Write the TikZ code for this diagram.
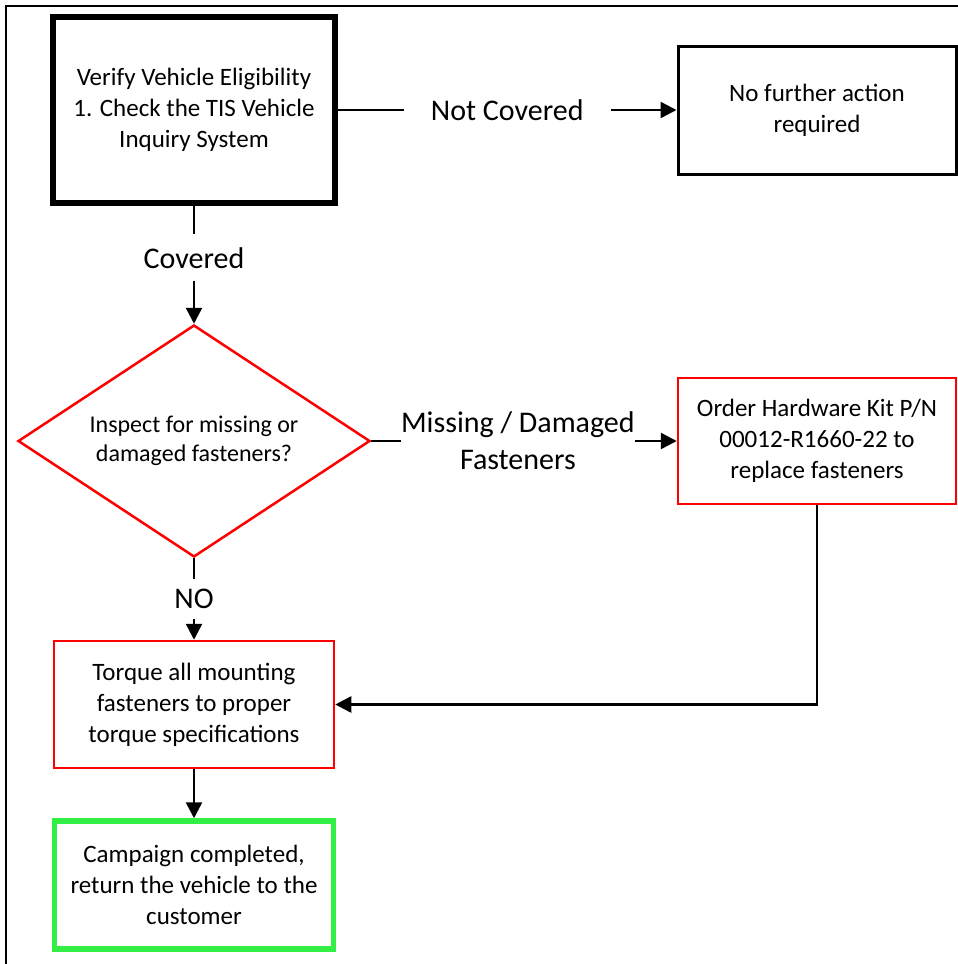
\documentclass[tikz,border=0pt]{standalone}
\usepackage{fontspec}
\setmainfont{Carlito}
\usetikzlibrary{arrows.meta,positioning,shapes.geometric}
\definecolor{flowInk}{HTML}{000000}
\definecolor{flowRed}{HTML}{FF0000}
\definecolor{flowGreen}{HTML}{33EE44}
\tikzset{
  every picture/.style={text=flowInk},
  flow box/.style={draw=flowInk, line width=3pt, fill=white, align=center,
    font=\fontsize{25}{31}\selectfont, minimum width=278pt,
    minimum height=128pt, inner sep=0pt},
  flow start/.style={flow box, line width=6pt, minimum width=282pt,
    minimum height=186pt},
  flow check/.style={flow box, draw=flowRed, line width=2.5pt},
  flow done/.style={flow box, draw=flowGreen, line width=5.5pt},
  flow decision/.style={diamond, aspect=1.517, draw=flowRed, line width=2.5pt,
    fill=white, align=center, font=\fontsize{24}{29.5}\selectfont,
    minimum width=352pt, minimum height=232pt, inner sep=0pt},
  flow arrow/.style={-{Triangle[length=16pt,width=16pt]},
    draw=flowInk, line width=2.5pt},
  flow frame/.style={draw=flowInk, line width=2.5pt},
  flow label/.style={fill=white, align=center,
    font=\fontsize{30}{37}\selectfont, inner xsep=0pt, inner ysep=12pt}
}

\begin{document}
\begin{tikzpicture}[x=1pt,y=-1pt]
  \useasboundingbox (0,0) rectangle (958,964);
  \draw[flow frame] (6,964) -- (6,6) -- (958,6);

  \node[flow start] (verify) at (194,110) {Verify Vehicle Eligibility\\1. Check the TIS Vehicle\\Inquiry System};
  \node[flow box] (nofurther) at (817,110) {No further action\\required};
  \node[flow decision] (inspect) at (194,441) {Inspect for missing or\\damaged fasteners?};
  \node[flow check, minimum height=126pt] (order) at (817,441) {Order Hardware Kit P/N\\00012-R1660-22 to\\replace fasteners};
  \node[flow check, minimum width=280pt, minimum height=127pt] (torque) at (194,704.5) {Torque all mounting\\fasteners to proper\\torque specifications};
  \node[flow done, minimum width=279pt] (done) at (194,885) {Campaign completed,\\return the vehicle to the\\customer};

  \draw[flow arrow] (verify) -- node[flow label, inner xsep=27pt] {Not Covered} (nofurther);
  \draw[flow arrow] (verify) -- node[flow label, pos=0.44, inner ysep=13pt] {Covered} (inspect);
  \draw[flow arrow] (inspect) -- node[flow label, pos=0.48] {Missing / Damaged\\Fasteners} (order);
  \draw[flow arrow] (inspect) -- node[flow label, inner ysep=10pt] {NO} (torque);
  \draw[flow arrow] (order.south) |- (torque.east);
  \draw[flow arrow] (torque) -- (done);
\end{tikzpicture}
\end{document}
